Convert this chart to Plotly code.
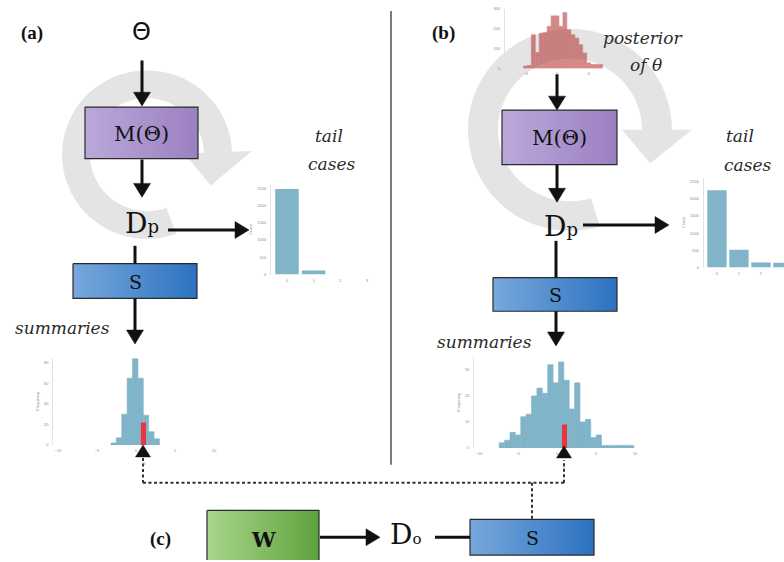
import math
import plotly.graph_objects as go

W, H = 784, 562

# ---------------- data ----------------
summary_a_bins = [-2.86, -2.17, -1.48, -0.79, -0.10, 0.59, 1.28, 1.97, 2.66]
summary_a_freq = [2, 7, 30, 65, 84, 65, 29, 13, 6]

summary_b_bins = [-7.06, -6.37, -5.68, -4.99, -4.30, -3.61, -2.92, -2.23, -1.54, -0.85,
                  -0.16, 0.53, 1.22, 1.91, 2.60, 3.29, 3.98, 4.67, 5.36, 6.05,
                  6.74, 7.43, 8.12, 8.81, 9.50]
summary_b_freq = [2, 3, 6, 5, 12, 13, 20, 23, 21, 32, 25, 33, 26, 15, 25, 10, 11, 4, 5, 1,
                  1, 1, 1, 1, 1]

observed_summary = [0.96]
observed_a_freq = [22]
observed_b_freq = [9]

tail_categories = [0, 1, 2, 3]
tail_a_counts = [2480, 115, 0, 0]
tail_b_counts = [2240, 520, 150, 140]

posterior_bins = [-4.0, -3.5, -3.0, -2.5, -2.0, -1.5, -1.0, -0.5, 0.0, 0.5,
                  1.0, 1.5, 2.0, 2.5, 3.0, 3.5, 4.0, 4.5, 5.0, 5.5]
posterior_counts = [12, 15, 170, 80, 178, 180, 212, 265, 265, 212,
                    282, 195, 170, 153, 120, 78, 28, 20, 20, 20]

summary_xticks = [-10, -5, 0, 5, 10]
summary_a_yticks = [0, 20, 40, 60, 80]
summary_b_yticks = [0, 10, 20, 30]
tail_yticks = [0, 500, 1000, 1500, 2000, 2500]
posterior_xticks = [-4, 0, 4]
posterior_yticks = [0, 100, 200, 300]

# ---------------- styling ----------------
BLUE_BAR = "#80b4c8"
RED_BAR = "#e8353e"
POST_BAR = "rgb(182,52,52)"
RING = "#e4e4e4"
INK = "#111111"
SERIF = "DejaVu Serif"
TICKFONT = dict(family="Liberation Sans", size=4, color="#8a8a8a")


def dx(p0, p1):
    return [p0 / W, min(p1 / W, 1.0)]


def dy(top, bottom):
    return [1 - bottom / H, 1 - top / H]


fig = go.Figure()
shapes = []
annotations = []


def line(x0, y0, x1, y1, width=3, color=INK, dash=None):
    d = dict(type="line", xref="x", yref="y", x0=x0, y0=y0, x1=x1, y1=y1,
             line=dict(color=color, width=width))
    if dash:
        d["line"]["dash"] = dash
    shapes.append(d)


def arrow(x0, y0, x1, y1, hl=14, hw=8.5):
    L = math.hypot(x1 - x0, y1 - y0)
    ux, uy = (x1 - x0) / L, (y1 - y0) / L
    bx, by = x1 - ux * hl, y1 - uy * hl
    line(x0, y0, bx + ux * 1, by + uy * 1)
    p = "M {:.1f} {:.1f} L {:.1f} {:.1f} L {:.1f} {:.1f} Z".format(
        x1, y1, bx - uy * hw, by + ux * hw, bx + uy * hw, by - ux * hw)
    shapes.append(dict(type="path", xref="x", yref="y", path=p,
                       fillcolor=INK, line=dict(color=INK, width=0.5)))


def ring(cx, cy, r_in, r_out, a0, a1, head, wing):
    pts = []
    n = 60
    for i in range(n + 1):
        a = math.radians(a0 + (a1 - a0) * i / n)
        pts.append((cx + r_out * math.cos(a), cy + r_out * math.sin(a)))
    a = math.radians(a1)
    pts.append((cx + (r_out + wing) * math.cos(a), cy + (r_out + wing) * math.sin(a)))
    at = math.radians(a1 + head)
    rm = (r_in + r_out) / 2
    pts.append((cx + rm * math.cos(at), cy + rm * math.sin(at)))
    pts.append((cx + (r_in - wing) * math.cos(a), cy + (r_in - wing) * math.sin(a)))
    for i in range(n + 1):
        a = math.radians(a1 - (a1 - a0) * i / n)
        pts.append((cx + r_in * math.cos(a), cy + r_in * math.sin(a)))
    p = "M " + " L ".join("{:.1f} {:.1f}".format(x, y) for x, y in pts) + " Z"
    shapes.append(dict(type="path", xref="x", yref="y", path=p, layer="below",
                       fillcolor=RING, line=dict(width=0)))


def box(x0, y0, x1, y1, c0, c1, label, size=20, weight="normal"):
    fig.add_trace(go.Scatter(
        x=[x0, x1, x1, x0, x0], y=[y0, y0, y1, y1, y0], mode="lines",
        fill="toself", line=dict(color="#2a2a2a", width=1.2),
        fillgradient=dict(type="horizontal", colorscale=[[0, c0], [1, c1]]),
        xaxis="x", yaxis="y", hoverinfo="skip", showlegend=False))
    annotations.append(dict(x=(x0 + x1) / 2, y=(y0 + y1) / 2 + 1, xref="x", yref="y",
                            text=label, showarrow=False,
                            font=dict(family=SERIF, size=size, color=INK, weight=weight)))


def text(x, y, t, size=17, family=SERIF, style="normal", color=INK, xanchor="center",
         weight="normal"):
    annotations.append(dict(x=x, y=y, xref="x", yref="y", text=t, showarrow=False,
                            xanchor=xanchor, yanchor="middle",
                            font=dict(family=family, size=size, color=color, style=style,
                                      weight=weight)))


# ---------------- background rings ----------------
ring(147, 153, 57, 85, 70, 358, 28, 20)
ring(570, 128, 72, 102, 73, 360, 23, 20)

# ---------------- boxes ----------------
PURPLE = ("#bba8da", "#9b80c1")
BLUEBOX = ("#78a8dc", "#2c72c0")
GREEN = ("#a9d68d", "#5ea23c")
box(85, 105, 198, 157, *PURPLE, "M(Θ)", size=21)
box(73, 263, 197, 298, *BLUEBOX, "S", size=19)
box(502, 108, 617, 163, *PURPLE, "M(Θ)", size=21)
box(493, 277, 617, 311, *BLUEBOX, "S", size=19)
box(207, 512, 319, 568, *GREEN, "W", size=21, weight="bold")
box(470, 521, 594, 557, *BLUEBOX, "S", size=19)

# ---------------- arrows / lines ----------------
arrow(142, 58, 142, 104)
arrow(142, 158, 142, 196)
arrow(168, 229, 249, 229)
line(135, 245, 135, 263)
arrow(135, 298, 135, 344)

arrow(557, 72, 557, 108)
arrow(557, 163, 557, 201)
arrow(583, 224, 669, 224)
line(556, 240, 556, 277)
arrow(556, 311, 556, 346)

arrow(320, 539, 380, 539)
line(435, 539, 470, 539)

# divider
line(391, 8, 391, 466, width=1.3, color="#333333")

# dotted connector
for seg in [(143, 459, 143, 484), (143, 484, 564, 484), (564, 484, 564, 461), (532, 484, 532, 521)]:
    line(*seg, width=2, color="#333333", dash="3px,2.5px")

# observed-value triangles
for cx_, ty in [(143, 446), (564, 447)]:
    shapes.append(dict(type="path", xref="x", yref="y",
                       path="M {} {} L {} {} L {} {} Z".format(cx_, ty, cx_ - 7.5, ty + 12, cx_ + 7.5, ty + 12),
                       fillcolor=INK, line=dict(color=INK, width=0.5)))

# ---------------- texts ----------------
text(32, 30, "(a)", size=19, family="Liberation Serif", weight="bold")
text(443, 30, "(b)", size=19, family="Liberation Serif", weight="bold")
text(160, 541, "(c)", size=19, family="Liberation Serif", weight="bold")
text(141, 29, "Θ", size=24, family="DejaVu Sans")
DP = "D<span style='font-size:18px'>p</span>"
text(142, 222, DP, size=28)
text(561, 225, DP, size=28)
text(405, 536, "D<span style='font-size:15px'>o</span>", size=28)
text(62, 328, "summaries", size=17, style="italic", color="#2a2a2a")
text(484, 342, "summaries", size=17, style="italic", color="#2a2a2a")
text(329, 134, "tail", size=17, style="italic", color="#2a2a2a")
text(331, 162, "cases", size=17, style="italic", color="#2a2a2a")
text(740, 134, "tail", size=17, style="italic", color="#2a2a2a")
text(747, 163, "cases", size=17, style="italic", color="#2a2a2a")
text(643, 35, "posterior", size=17, style="italic", color="#2a2a2a")
text(646, 63, "of θ", size=17, style="italic", color="#2a2a2a")
text(144, 465, "θ", size=4, family="Liberation Sans", color="#777")
text(564, 468, "θ", size=4, family="Liberation Sans", color="#777")

# ---------------- histogram traces ----------------
blue_marker = dict(color=BLUE_BAR, line=dict(width=0.6, color=BLUE_BAR))
fig.add_trace(go.Bar(x=summary_a_bins, y=summary_a_freq, width=0.69, marker=blue_marker,
                     xaxis="x2", yaxis="y2", showlegend=False, hoverinfo="skip"))
fig.add_trace(go.Bar(x=observed_summary, y=observed_a_freq, width=0.64, marker=dict(color=RED_BAR, line=dict(width=0)),
                     xaxis="x2", yaxis="y2", showlegend=False, hoverinfo="skip"))
fig.add_trace(go.Bar(x=summary_b_bins, y=summary_b_freq, width=0.69, marker=blue_marker,
                     xaxis="x3", yaxis="y3", showlegend=False, hoverinfo="skip"))
fig.add_trace(go.Bar(x=observed_summary, y=observed_b_freq, width=0.64, marker=dict(color=RED_BAR, line=dict(width=0)),
                     xaxis="x3", yaxis="y3", showlegend=False, hoverinfo="skip"))
fig.add_trace(go.Bar(x=tail_categories, y=tail_a_counts, width=0.88, marker=dict(color=BLUE_BAR, line=dict(width=0)),
                     xaxis="x4", yaxis="y4", showlegend=False, hoverinfo="skip"))
fig.add_trace(go.Bar(x=tail_categories, y=tail_b_counts, width=0.88, marker=dict(color=BLUE_BAR, line=dict(width=0)),
                     xaxis="x5", yaxis="y5", showlegend=False, hoverinfo="skip"))
fig.add_trace(go.Bar(x=posterior_bins, y=posterior_counts, width=0.5, opacity=0.58,
                     marker=dict(color=POST_BAR, line=dict(width=0.6, color=POST_BAR)),
                     xaxis="x6", yaxis="y6", showlegend=False, hoverinfo="skip"))

hidden = dict(visible=False, fixedrange=True)


def xax(domain, rng, ticks, anchor):
    return dict(domain=domain, range=rng, tickvals=ticks, tickfont=TICKFONT, showgrid=False,
                zeroline=False, showline=False, ticks="", anchor=anchor, fixedrange=True, ticklabelstandoff=2)


def yax(domain, rng, ticks, anchor, title):
    return dict(domain=domain, range=rng, tickvals=ticks, tickfont=TICKFONT, showgrid=False,
                zeroline=False, showline=True, linecolor="#e2e2e2", linewidth=1, ticks="",
                anchor=anchor, fixedrange=True, ticklabelstandoff=3,
                title=dict(text=title, font=dict(family="Liberation Sans", size=4, color="#8a8a8a"), standoff=4))


fig.update_layout(
    width=W, height=H, margin=dict(l=0, r=0, t=0, b=0),
    paper_bgcolor="white", plot_bgcolor="rgba(0,0,0,0)",
    showlegend=False, hovermode=False,
    xaxis=dict(domain=[0, 1], range=[0, W], **hidden),
    yaxis=dict(domain=[0, 1], range=[H, 0], **hidden),
    xaxis2=xax(dx(53.3, 218.7), [-10.6, 10.6], summary_xticks, "y2"),
    yaxis2=yax(dy(357.8, 446), [0, 85], summary_a_yticks, "x2", "Frequency"),
    xaxis3=xax(dx(474.3, 639.7), [-10.6, 10.6], summary_xticks, "y3"),
    yaxis3=yax(dy(357, 449), [0, 35], summary_b_yticks, "x3", "Frequency"),
    xaxis4=xax(dx(271, 383), [-0.6, 3.6], tail_categories, "y4"),
    yaxis4=yax(dy(183.5, 274), [0, 2600], tail_yticks, "x4", "Count"),
    xaxis5=xax(dx(703.8, 784), [-0.6, 3.05], tail_categories, "y5"),
    yaxis5=yax(dy(176.5, 267), [0, 2600], tail_yticks, "x5", "Count"),
    xaxis6=xax(dx(505, 606.8), [-6.58, 6.3], posterior_xticks, "y6"),
    yaxis6=yax(dy(6, 66), [0, 300], posterior_yticks, "x6", ""),
    shapes=shapes, annotations=annotations,
)

fig.write_html("out.html", config={"displayModeBar": False, "staticPlot": True},
               post_script="document.body.style.margin='0';document.body.style.overflow='hidden';")
